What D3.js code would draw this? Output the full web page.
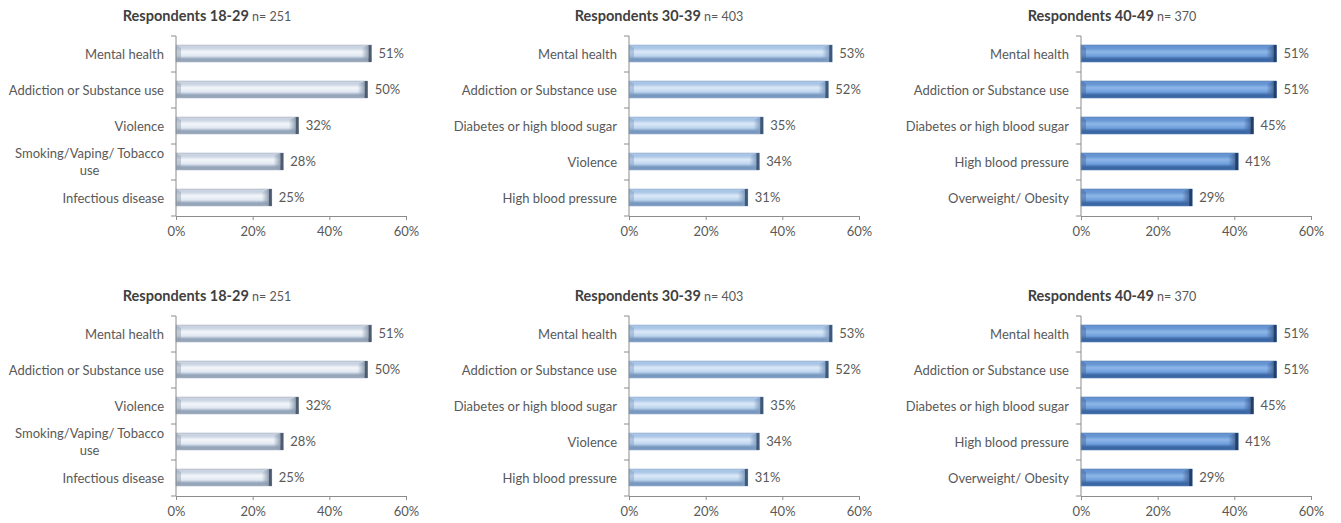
<!DOCTYPE html>
<html>
<head>
<meta charset="utf-8">
<script src="https://cdn.jsdelivr.net/npm/d3@7"></script>
<style>
  body { margin: 0; background: #fff; }
  svg { display: block; }
  text { font-family: Lato, "Open Sans", sans-serif; fill: #595959; }
</style>
</head>
<body>
<svg id="chart" width="1341" height="523"></svg>
<script>
// ---- data ----
const titles = ["Respondents 18-29", "Respondents 30-39", "Respondents 40-49"];
const sampleSizes = ["n= 251", "n= 403", "n= 370"];
const cats1829 = ["Mental health", "Addiction or Substance use", "Violence", "Smoking/Vaping/ Tobacco use", "Infectious disease"];
const vals1829 = [0.51, 0.50, 0.32, 0.28, 0.25];
const cats3039 = ["Mental health", "Addiction or Substance use", "Diabetes or high blood sugar", "Violence", "High blood pressure"];
const vals3039 = [0.53, 0.52, 0.35, 0.34, 0.31];
const cats4049 = ["Mental health", "Addiction or Substance use", "Diabetes or high blood sugar", "High blood pressure", "Overweight/ Obesity"];
const vals4049 = [0.51, 0.51, 0.45, 0.41, 0.29];
const xTicks = [0, 0.2, 0.4, 0.6];
const xTickLabels = ["0%", "20%", "40%", "60%"];

const groups = [
  { title: titles[0], n: sampleSizes[0], cats: cats1829, vals: vals1829 },
  { title: titles[1], n: sampleSizes[1], cats: cats3039, vals: vals3039 },
  { title: titles[2], n: sampleSizes[2], cats: cats4049, vals: vals4049 }
];

// ---- layout / styles ----
const colX = [176, 629, 1081];
const rowY = [36, 316];
const titleCx = [207, 659, 1112];
const plotW = 230, plotH = 180;
const fs = 13;
const palettes = [
  { top: "#c9d3e1", mid: "#f4f7fb", low: "#dfe7f1", bot: "#95a5ba", cap: "#4d5b6e", capSoft: "#8c9bb0", stroke: "#a4b0c0" },
  { top: "#a9c6e6", mid: "#dce9f7", low: "#bcd4ee", bot: "#7898c0", cap: "#3f5878", capSoft: "#7f9cc2", stroke: "#8fa8c8" },
  { top: "#6595d2", mid: "#8db7ea", low: "#6e9edb", bot: "#3a68a6", cap: "#24406a", capSoft: "#45679a", stroke: "#4a74ac" }
];

const svg = d3.select("#chart");
const defs = svg.append("defs");
palettes.forEach((p, i) => {
  const g = defs.append("linearGradient").attr("id", "grad" + i)
    .attr("x1", 0).attr("y1", 0).attr("x2", 0).attr("y2", 1);
  [[0, p.top], [0.18, p.top], [0.4, p.mid], [0.65, p.low], [0.82, p.bot], [1, p.bot]]
    .forEach(([o, c]) => g.append("stop").attr("offset", o).attr("stop-color", c));
  const h = defs.append("linearGradient").attr("id", "cap" + i)
    .attr("x1", 0).attr("y1", 0).attr("x2", 1).attr("y2", 0);
  h.append("stop").attr("offset", 0).attr("stop-color", p.capSoft).attr("stop-opacity", 0);
  h.append("stop").attr("offset", 1).attr("stop-color", p.capSoft).attr("stop-opacity", 0.9);
});

const x = d3.scaleLinear().domain([0, 0.6]).range([0, plotW]);
const axisColor = "#8c8c8c";

rowY.forEach(ry => {
  groups.forEach((grp, gi) => {
    const g = svg.append("g").attr("transform", `translate(${colX[gi]},${ry})`);
    const y = d3.scaleBand().domain(grp.cats).range([0, plotH]).padding(0);
    const bh = y.bandwidth() * 0.47;
    const p = palettes[gi];

    // title
    const t = svg.append("text")
      .attr("x", titleCx[gi]).attr("y", ry - 15)
      .attr("text-anchor", "middle");
    t.append("tspan").attr("font-weight", "bold").attr("font-size", 14.5).style("fill", "#404040").text(grp.title);
    t.append("tspan").attr("font-size", 12.5).text(" " + grp.n);

    // bars
    const bars = g.selectAll("g.bar").data(grp.cats.map((c, i) => ({ c, v: grp.vals[i] })))
      .enter().append("g").attr("class", "bar")
      .attr("transform", d => `translate(0,${y(d.c) + (y.bandwidth() - bh) / 2 - 0.5})`);
    bars.append("rect")
      .attr("width", d => x(d.v)).attr("height", bh)
      .attr("fill", `url(#grad${gi})`)
      .attr("stroke", p.stroke).attr("stroke-width", 0.6);
    // left bevel
    bars.append("polygon")
      .attr("points", d => `0,0 5,3 5,${bh - 3} 0,${bh}`)
      .attr("fill", p.capSoft).attr("opacity", 0.45);
    // right bevel
    bars.append("polygon")
      .attr("points", d => { const w = x(d.v); return `${w - 10},3 ${w - 3},0 ${w - 3},${bh} ${w - 10},${bh - 3}`; })
      .attr("fill", `url(#cap${gi})`);
    bars.append("rect")
      .attr("x", d => x(d.v) - 3).attr("width", 3).attr("height", bh)
      .attr("fill", p.cap);

    // value labels
    bars.append("text")
      .attr("x", d => x(d.v) + 7).attr("y", bh / 2)
      .attr("dy", "0.35em").attr("font-size", fs)
      .text(d => Math.round(d.v * 100) + "%");

    // y axis
    g.append("line").attr("x1", 0).attr("x2", 0).attr("y1", 0).attr("y2", plotH)
      .attr("stroke", axisColor);
    d3.range(grp.cats.length + 1).forEach(i => {
      g.append("line").attr("x1", -5).attr("x2", 0)
        .attr("y1", i * y.step()).attr("y2", i * y.step()).attr("stroke", axisColor);
    });
    // category labels
    grp.cats.forEach(c => {
      const cy = y(c) + y.bandwidth() / 2;
      if (c === "Smoking/Vaping/ Tobacco use") {
        const l1 = g.append("text").attr("x", -12).attr("y", cy - 8.5).attr("dy", "0.35em")
          .attr("text-anchor", "end").attr("font-size", fs).text("Smoking/Vaping/ Tobacco");
        const w = l1.node().getComputedTextLength();
        g.append("text").attr("x", -12 - w / 2).attr("y", cy + 8.5).attr("dy", "0.35em")
          .attr("text-anchor", "middle").attr("font-size", fs).text("use");
      } else {
        g.append("text").attr("x", -12).attr("y", cy).attr("dy", "0.35em")
          .attr("text-anchor", "end").attr("font-size", fs).text(c);
      }
    });

    // x axis
    const xa = g.append("g").attr("transform", `translate(0,${plotH})`)
      .call(d3.axisBottom(x).tickValues(xTicks).tickFormat((d, i) => xTickLabels[i]).tickSize(4).tickSizeOuter(0));
    xa.select(".domain").attr("stroke", axisColor);
    xa.selectAll(".tick line").attr("stroke", axisColor);
    xa.selectAll(".tick text").attr("font-size", fs).attr("dy", "1.0em")
      .style("fill", "#595959").attr("font-family", "Lato, 'Open Sans', sans-serif");
  });
});
</script>
</body>
</html>
